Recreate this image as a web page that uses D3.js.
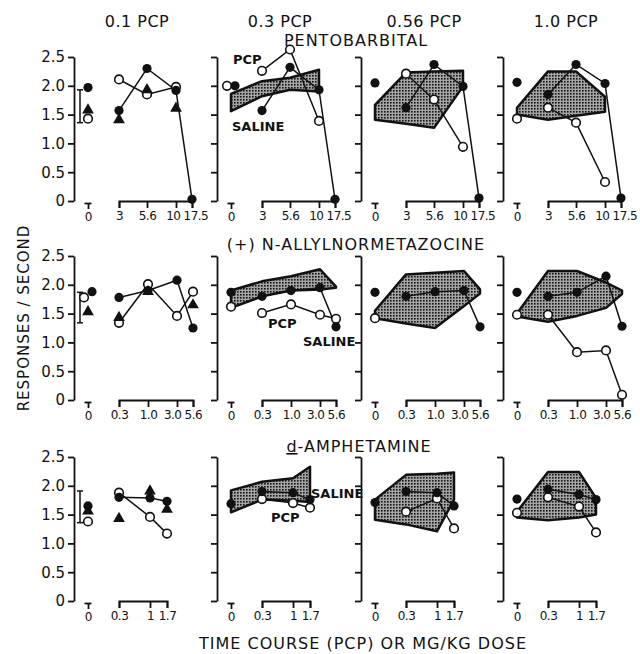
<!DOCTYPE html>
<meta charset="utf-8">
<head>
  <style>
    body { margin: 0; background: #fff; }
    text { font-family: "DejaVu Sans", sans-serif; fill: #111; }
    .title { font-size: 16px; letter-spacing: 1px; }
    .note { font-size: 13px; font-weight: bold; }
  </style>
  <title></title>
</head>
<body>
<div id="my_dataviz"></div>

<script src="https://cdn.jsdelivr.net/npm/d3@7"></script>
<script>

// titles and ticks
var colTitles = ["0.1 PCP", "0.3 PCP", "0.56 PCP", "1.0 PCP"];
var yTicks = [0, 0.5, 1.0, 1.5, 2.0, 2.5];

// doses (first entry is the control, "0")
var pentoDoses = [0, 3, 5.6, 10, 17.5];
var pentoLabels = ["0", "3", "5.6", "10", "17.5"];
var nanmDoses = [0, 0.3, 1.0, 3.0, 5.6];
var nanmLabels = ["0", "0.3", "1.0", "3.0", "5.6"];
var amphDoses = [0, 0.3, 1, 1.7];
var amphLabels = ["0", "0.3", "1", "1.7"];

// PENTOBARBITAL, one list per PCP column, values at the non-zero doses
var pentoFilled = [[1.57, 2.30, 1.92, 0.03], [1.57, 2.32, 1.93, 0.03], [1.62, 2.37, 1.99, 0.05], [1.85, 2.37, 2.04, 0.05]];
var pentoOpen = [[2.11, 1.85, 1.98, null], [2.26, 2.63, 1.39, null], [2.21, 1.76, 0.94, null], [1.62, 1.36, 0.33, null]];
var pentoTri = [[1.41, 1.93, 1.61, null], null, null, null];
var pentoCtlFilled = [1.97, 2.00, 2.05, 2.06];
var pentoCtlOpen = [1.43, 2.00, null, 1.43];
var pentoCtlTri = [1.58, null, null, null];
var pentoErr = [1.36, 1.93];
var pentoBandLo = [null, [1.56, 1.82, 1.93, 1.90], [1.41, 1.34, 1.27, 1.99], [1.50, 1.41, 1.48, 1.55]];
var pentoBandHi = [null, [1.86, 2.08, 2.14, 2.28], [1.67, 2.23, 2.25, 2.26], [1.62, 2.25, 2.25, 1.81]];

// (+) N-ALLYLNORMETAZOCINE
var nanmFilled = [[1.78, 1.90, 2.08, 1.25], [1.80, 1.90, 1.95, 1.27], [1.80, 1.88, 1.90, 1.27], [1.80, 1.87, 2.15, 1.28]];
var nanmOpen = [[1.34, 2.01, 1.46, 1.88], [1.51, 1.66, 1.48, 1.41], null, [1.48, 0.83, 0.86, 0.09]];
var nanmTri = [[1.43, 1.88, null, 1.65], null, null, null];
var nanmCtlFilled = [1.88, 1.87, 1.87, 1.87];
var nanmCtlOpen = [1.78, 1.62, 1.42, 1.48];
var nanmCtlTri = [1.53, null, null, null];
var nanmErr = [1.34, 1.87];
var nanmBandLo = [null, [1.60, 1.80, 1.90, 1.92, 1.95], [1.42, 1.33, 1.25, 1.63, 1.85], [1.45, 1.36, 1.46, 1.60, 1.84]];
var nanmBandHi = [null, [1.90, 2.06, 2.15, 2.27, 1.97], [1.55, 2.18, 2.21, 2.24, 1.92], [1.50, 2.24, 2.24, 2.04, 1.90]];

// d-AMPHETAMINE
var amphFilled = [[1.80, 1.79, 1.73], [1.90, 1.88, 1.76], [1.90, 1.88, 1.65], [1.94, 1.85, 1.76]];
var amphOpen = [[1.88, 1.46, 1.17], [1.77, 1.70, 1.62], [1.55, 1.78, 1.26], [1.80, 1.64, 1.19]];
var amphTri = [[1.43, 1.91, 1.59], null, null, null];
var amphCtlFilled = [1.65, 1.69, 1.71, 1.77];
var amphCtlOpen = [1.38, null, null, 1.53];
var amphCtlTri = [1.56, null, null, null];
var amphErr = [1.36, 1.91];
var amphBandLo = [null, [1.54, 1.76, 1.74, 1.72], [1.41, 1.33, 1.21, 1.76], [1.45, 1.40, 1.45, 1.50]];
var amphBandHi = [null, [1.92, 2.07, 2.13, 2.33], [1.76, 2.19, 2.21, 2.23], [1.55, 2.24, 2.24, 1.79]];

var rows = [
  {doses: pentoDoses, labels: pentoLabels, filled: pentoFilled, open: pentoOpen, tri: pentoTri,
   ctlFilled: pentoCtlFilled, ctlOpen: pentoCtlOpen, ctlTri: pentoCtlTri, err: pentoErr, lo: pentoBandLo, hi: pentoBandHi},
  {doses: nanmDoses, labels: nanmLabels, filled: nanmFilled, open: nanmOpen, tri: nanmTri,
   ctlFilled: nanmCtlFilled, ctlOpen: nanmCtlOpen, ctlTri: nanmCtlTri, err: nanmErr, lo: nanmBandLo, hi: nanmBandHi},
  {doses: amphDoses, labels: amphLabels, filled: amphFilled, open: amphOpen, tri: amphTri,
   ctlFilled: amphCtlFilled, ctlOpen: amphCtlOpen, ctlTri: amphCtlTri, err: amphErr, lo: amphBandLo, hi: amphBandHi}
];

// layout
var width = 640, height = 654;
var colX = [74, 217, 361, 503];          // y axis of each column
var rowZero = [201, 400, 601];           // pixel of 0 responses/sec
var rowSpan = 144;                       // 0 -> 2.5
var xOff = [[14, 45, 73, 102, 118], [14, 45, 74, 103, 119], [14, 45, 76, 93]];

var svg = d3.select("#my_dataviz")
  .append("svg")
    .attr("width", width)
    .attr("height", height);

// stipple for the shaded bands
var pat = svg.append("defs").append("pattern")
    .attr("id", "stipple")
    .attr("patternUnits", "userSpaceOnUse")
    .attr("width", 3).attr("height", 3);
pat.append("rect").attr("width", 3).attr("height", 3).attr("fill", "#a4a4a4");
pat.append("rect").attr("width", 1.6).attr("height", 1.6).attr("fill", "#151515");

function yScale(r) {
  return d3.scaleLinear().domain([0, 2.5]).range([rowZero[r], rowZero[r] - rowSpan]);
}

var yFmt = function(d) { return d === 0 ? "0" : d.toFixed(1); };

function drawPanel(r, c) {
  var row = rows[r];
  var y = yScale(r);
  var x = d3.scaleOrdinal()
    .domain(row.doses)
    .range(xOff[r].map(function(o) { return colX[c] + o; }));
  var g = svg.append("g");

  // y axis
  var ya = g.append("g")
    .attr("transform", "translate(" + colX[c] + ",0)")
    .call(d3.axisLeft(y).tickValues(yTicks).tickSize(6).tickSizeOuter(0).tickPadding(3)
      .tickFormat(c === 0 ? yFmt : ""));
  ya.attr("font-family", null).attr("font-size", null);
  ya.selectAll("text").style("font-size", "15px");

  // dose bracket
  var xb = d3.scaleOrdinal()
    .domain(row.doses.slice(1))
    .range(xOff[r].slice(1).map(function(o) { return colX[c] + o; }));
  var xa = g.append("g")
    .attr("transform", "translate(0," + rowZero[r] + ")")
    .call(d3.axisBottom(xb).tickSize(7).tickPadding(3)
      .tickFormat(function(d, i) { return row.labels[i + 1]; }));
  xa.attr("font-family", null).attr("font-size", null);
  xa.selectAll("text").style("font-size", "12px").style("letter-spacing", "-0.5px");
  if (r < 2) {
    var n = row.doses.length - 1;
    xa.selectAll(".tick text").each(function(d, i) {
      if (i === n - 2) d3.select(this).attr("text-anchor", "end").attr("dx", 4);
      if (i === n - 1) d3.select(this).attr("text-anchor", "start").attr("dx", -9);
    });
  }

  // "0" mark: a small T
  var x0 = d3.scaleOrdinal().domain([0]).range([x(0)]);
  var za = g.append("g")
    .attr("transform", "translate(0," + (rowZero[r] + 2) + ")")
    .call(d3.axisBottom(x0).tickSize(6).tickSizeOuter(0).tickPadding(3).tickFormat(function() { return "0"; }));
  za.attr("font-family", null).attr("font-size", null);
  za.selectAll("text").style("font-size", "12px");
  za.select(".domain").remove();
  g.append("line")
    .attr("x1", x(0) - 3.5).attr("x2", x(0) + 3.5)
    .attr("y1", rowZero[r] + 2.5).attr("y2", rowZero[r] + 2.5)
    .attr("stroke", "#111").attr("stroke-width", 1.8);

  g.selectAll(".domain, .tick line").attr("stroke", "#111").attr("stroke-width", 1.8);

  // shaded band
  if (row.lo[c]) {
    var band = row.lo[c].map(function(lo, i) { return {dose: row.doses[i], lo: lo, hi: row.hi[c][i]}; });
    g.append("path")
      .datum(band)
      .attr("d", d3.area()
        .x(function(d) { return x(d.dose); })
        .y0(function(d) { return y(d.lo); })
        .y1(function(d) { return y(d.hi); }))
      .attr("fill", "url(#stipple)")
      .attr("stroke", "#111")
      .attr("stroke-width", 2.5)
      .attr("stroke-linejoin", "round");
  }

  // error bar on the control (first column only)
  if (c === 0) {
    var ex = colX[0] + 6;
    g.append("line").attr("x1", ex).attr("x2", ex)
      .attr("y1", y(row.err[0])).attr("y2", y(row.err[1]))
      .attr("stroke", "#111").attr("stroke-width", 1.5);
    row.err.forEach(function(v) {
      g.append("line").attr("x1", ex - 3).attr("x2", ex + 3)
        .attr("y1", y(v)).attr("y2", y(v))
        .attr("stroke", "#111").attr("stroke-width", 1.5);
    });
  }

  function pts(vals) {
    if (!vals) return [];
    return vals.map(function(v, i) { return {dose: row.doses[i + 1], v: v}; })
      .filter(function(d) { return d.v != null; });
  }
  var line = d3.line()
    .x(function(d) { return x(d.dose); })
    .y(function(d) { return y(d.v); });

  var openPts = pts(row.open[c]);
  var filledPts = pts(row.filled[c]);
  var triPts = pts(row.tri[c]);

  [openPts, filledPts].forEach(function(p) {
    g.append("path").datum(p)
      .attr("d", line)
      .attr("fill", "none")
      .attr("stroke", "#111")
      .attr("stroke-width", 1.5);
  });

  // controls at dose 0
  var cf = row.ctlFilled[c], co = row.ctlOpen[c], ct = row.ctlTri[c];
  var shift = (cf != null && co != null && Math.abs(cf - co) < 0.1) ? 4 : 0;
  if (co != null) openPts.push({dose: 0, v: co, dx: -shift});
  if (cf != null) filledPts.push({dose: 0, v: cf, dx: shift});
  if (ct != null) triPts.push({dose: 0, v: ct});

  g.selectAll(".open").data(openPts).enter().append("circle")
    .attr("cx", function(d) { return x(d.dose) + (d.dx || 0); })
    .attr("cy", function(d) { return y(d.v); })
    .attr("r", 4.3)
    .attr("fill", "#fff")
    .attr("stroke", "#111")
    .attr("stroke-width", 1.6);

  g.selectAll(".filled").data(filledPts).enter().append("circle")
    .attr("cx", function(d) { return x(d.dose) + (d.dx || 0); })
    .attr("cy", function(d) { return y(d.v); })
    .attr("r", 4.6)
    .attr("fill", "#111");

  g.selectAll(".tri").data(triPts).enter().append("path")
    .attr("d", d3.symbol(d3.symbolTriangle, 60))
    .attr("transform", function(d) { return "translate(" + x(d.dose) + "," + y(d.v) + ")"; })
    .attr("fill", "#111");
}

for (var r = 0; r < 3; r++) {
  for (var c = 0; c < 4; c++) drawPanel(r, c);
}

// PCP / SALINE notes in the second column
function note(r, c, text, dx, v) {
  svg.append("text")
    .attr("class", "note")
    .attr("x", colX[c] + dx)
    .attr("y", yScale(r)(v))
    .text(text);
}
note(0, 1, "PCP", 16, 2.37);
note(0, 1, "SALINE", 15, 1.22);
note(1, 1, "PCP", 51, 1.25);
note(1, 1, "SALINE", 86, 0.93);
note(2, 1, "SALINE", 94, 1.78);
note(2, 1, "PCP", 54, 1.38);

// column titles
svg.selectAll(".coltitle").data(colTitles).enter().append("text")
  .attr("class", "title")
  .attr("x", function(d, i) { return colX[i] + 63; })
  .attr("y", 27)
  .attr("text-anchor", "middle")
  .style("letter-spacing", "0.5px")
  .text(function(d) { return d; });

// drug titles
svg.append("text").attr("class", "title").attr("x", 356).attr("y", 46)
  .attr("text-anchor", "middle").text("PENTOBARBITAL");
svg.append("text").attr("class", "title").attr("x", 356).attr("y", 250)
  .attr("text-anchor", "middle").text("(+) N-ALLYLNORMETAZOCINE");
var amph = svg.append("text").attr("class", "title").attr("x", 359).attr("y", 452)
  .attr("text-anchor", "middle");
amph.append("tspan").style("text-decoration", "underline").text("d");
amph.append("tspan").text("-AMPHETAMINE");

// axis titles
svg.append("text")
  .attr("class", "title")
  .attr("transform", "translate(29,318) rotate(-90)")
  .attr("text-anchor", "middle")
  .style("font-size", "15px")
  .text("RESPONSES / SECOND");

svg.append("text")
  .attr("class", "title")
  .attr("x", 363)
  .attr("y", 649)
  .attr("text-anchor", "middle")
  .text("TIME COURSE (PCP) OR MG/KG DOSE");

</script>
</body>
